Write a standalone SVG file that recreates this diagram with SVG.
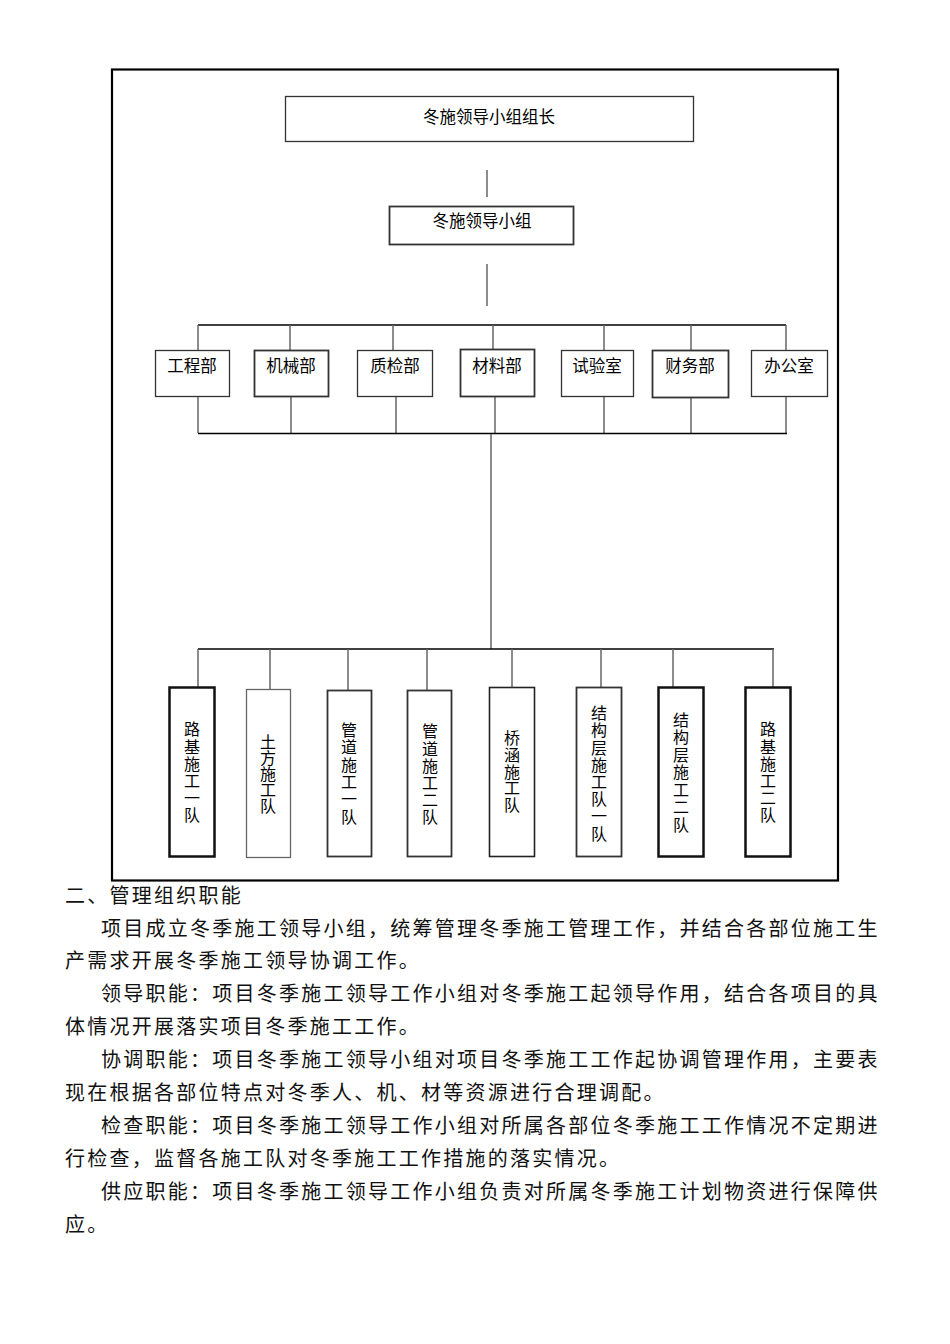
<svg xmlns="http://www.w3.org/2000/svg" width="950" height="1344" viewBox="0 0 950 1344">
<style>
.box{fill:#fff;stroke:#333;stroke-width:1.3}
.thick{fill:#fff;stroke:#111;stroke-width:2.5}
.mid{fill:#fff;stroke:#333;stroke-width:1.8}
.thin{fill:#fff;stroke:#666;stroke-width:1.3}
.lbl{font-family:"Noto Sans CJK SC","Noto Sans",sans-serif;font-size:16.5px;fill:#000;text-anchor:middle}
.vt{font-family:"Noto Sans CJK SC","Noto Sans",sans-serif;font-size:16px;fill:#000;text-anchor:middle;letter-spacing:1.2px}
.body{font-family:"Noto Sans CJK SC","Liberation Serif",serif;font-size:20px;fill:#111;letter-spacing:2.25px}
.g{stroke:#666;stroke-width:1.5;fill:none}
.k{stroke:#000;stroke-width:1.5;fill:none}
</style>
<rect x="0" y="0" width="950" height="1344" fill="#fff"/>
<rect x="112" y="69.5" width="726" height="811" fill="none" stroke="#000" stroke-width="2.2"/>

<g id="connectors">
<line class="g" x1="487" y1="170" x2="487" y2="197"/>
<line class="g" x1="487" y1="264" x2="487" y2="306"/>
<line class="k" x1="198" y1="325" x2="786" y2="325" stroke-width="1.2"/>
<line class="g" x1="198" y1="325" x2="198" y2="351"/>
<line class="g" x1="290" y1="325" x2="290" y2="351"/>
<line class="g" x1="393" y1="325" x2="393" y2="351"/>
<line class="g" x1="493" y1="325" x2="493" y2="351"/>
<line class="g" x1="604" y1="325" x2="604" y2="351"/>
<line class="g" x1="691" y1="325" x2="691" y2="351"/>
<line class="g" x1="786" y1="325" x2="786" y2="351"/>
<line class="g" x1="198" y1="396" x2="198" y2="433"/>
<line class="g" x1="291" y1="396" x2="291" y2="433"/>
<line class="g" x1="396" y1="396" x2="396" y2="433"/>
<line class="g" x1="495" y1="396" x2="495" y2="433"/>
<line class="g" x1="604" y1="396" x2="604" y2="433"/>
<line class="g" x1="691" y1="396" x2="691" y2="433"/>
<line class="g" x1="786" y1="396" x2="786" y2="433"/>
<line class="k" x1="198" y1="433.5" x2="787" y2="433.5" stroke-width="2.5"/>
<line class="g" x1="491" y1="434" x2="491" y2="649" stroke-width="2"/>
<line class="k" x1="198" y1="649" x2="774" y2="649"/>
<line class="g" x1="198" y1="649" x2="198" y2="687"/>
<line class="g" x1="270" y1="649" x2="270" y2="689"/>
<line class="g" x1="348" y1="649" x2="348" y2="690"/>
<line class="g" x1="427" y1="649" x2="427" y2="690"/>
<line class="g" x1="512" y1="649" x2="512" y2="687"/>
<line class="g" x1="601" y1="649" x2="601" y2="687"/>
<line class="g" x1="673" y1="649" x2="673" y2="687"/>
<line class="g" x1="773" y1="649" x2="773" y2="687"/>
</g>

<g id="n-leader">
<rect class="box" x="285.5" y="96.5" width="408" height="45"/>
<text class="lbl" x="489" y="123">冬施领导小组组长</text>
</g>
<g id="n-group">
<rect class="mid" x="389.5" y="206.5" width="184" height="38"/>
<text class="lbl" x="482" y="227">冬施领导小组</text>
</g>

<g id="n-gcb"><rect class="box" x="155.5" y="350.5" width="74" height="46"/><text class="lbl" x="192" y="372">工程部</text></g>
<g id="n-jxb"><rect class="mid" x="254.5" y="350.5" width="74" height="46"/><text class="lbl" x="291" y="372">机械部</text></g>
<g id="n-zjb"><rect class="box" x="357.5" y="350.5" width="75" height="46"/><text class="lbl" x="395" y="372">质检部</text></g>
<g id="n-clb"><rect class="mid" x="460.5" y="349.5" width="74" height="47"/><text class="lbl" x="497" y="372">材料部</text></g>
<g id="n-sys"><rect class="box" x="561.5" y="350.5" width="72" height="46"/><text class="lbl" x="597" y="372">试验室</text></g>
<g id="n-cwb"><rect class="mid" x="652.5" y="350.5" width="76" height="47"/><text class="lbl" x="690" y="372">财务部</text></g>
<g id="n-bgs"><rect class="box" x="751.5" y="350.5" width="76" height="46"/><text class="lbl" x="789" y="372">办公室</text></g>

<g id="n-t1"><rect class="thick" x="169.5" y="687.5" width="45" height="169"/>
<text class="vt" writing-mode="tb" x="192" y="773">路基施工一队</text></g>
<g id="n-t2"><rect class="thin" x="246.5" y="689.5" width="44" height="168"/>
<text class="vt" writing-mode="tb" x="268" y="774" style="letter-spacing:0.2px">土方施工队</text></g>
<g id="n-t3"><rect class="mid" x="327.5" y="690.5" width="44" height="166"/>
<text class="vt" writing-mode="tb" x="349" y="774" style="letter-spacing:1.4px">管道施工一队</text></g>
<g id="n-t4"><rect class="mid" x="407.5" y="690.5" width="44" height="166"/>
<text class="vt" writing-mode="tb" x="430" y="775">管道施工二队</text></g>
<g id="n-t5"><rect class="thin" x="489.5" y="687.5" width="45" height="169" style="stroke:#222;stroke-width:1.6"/>
<text class="vt" writing-mode="tb" x="512" y="772" style="letter-spacing:0.8px">桥涵施工队</text></g>
<g id="n-t6"><rect class="mid" x="576.5" y="687.5" width="45" height="169"/>
<text class="vt" writing-mode="tb" x="599" y="774">结构层施工队一队</text></g>
<g id="n-t7"><rect class="thick" x="658.5" y="687.5" width="45" height="169"/>
<text class="vt" writing-mode="tb" x="681" y="773" style="letter-spacing:1.5px">结构层施工二队</text></g>
<g id="n-t8"><rect class="thick" x="745.5" y="687.5" width="45" height="169"/>
<text class="vt" writing-mode="tb" x="768" y="773">路基施工二队</text></g>

<g id="body-text">
<text class="body" x="65" y="903">二、管理组织职能</text>
<text class="body" x="101" y="936">项目成立冬季施工领导小组，统筹管理冬季施工管理工作，并结合各部位施工生</text>
<text class="body" x="65" y="968">产需求开展冬季施工领导协调工作。</text>
<text class="body" x="101" y="1001">领导职能：项目冬季施工领导工作小组对冬季施工起领导作用，结合各项目的具</text>
<text class="body" x="65" y="1034">体情况开展落实项目冬季施工工作。</text>
<text class="body" x="101" y="1067">协调职能：项目冬季施工领导小组对项目冬季施工工作起协调管理作用，主要表</text>
<text class="body" x="65" y="1100">现在根据各部位特点对冬季人、机、材等资源进行合理调配。</text>
<text class="body" x="101" y="1133">检查职能：项目冬季施工领导工作小组对所属各部位冬季施工工作情况不定期进</text>
<text class="body" x="65" y="1166">行检查，监督各施工队对冬季施工工作措施的落实情况。</text>
<text class="body" x="101" y="1199">供应职能：项目冬季施工领导工作小组负责对所属冬季施工计划物资进行保障供</text>
<text class="body" x="65" y="1232">应。</text>
</g>
</svg>
